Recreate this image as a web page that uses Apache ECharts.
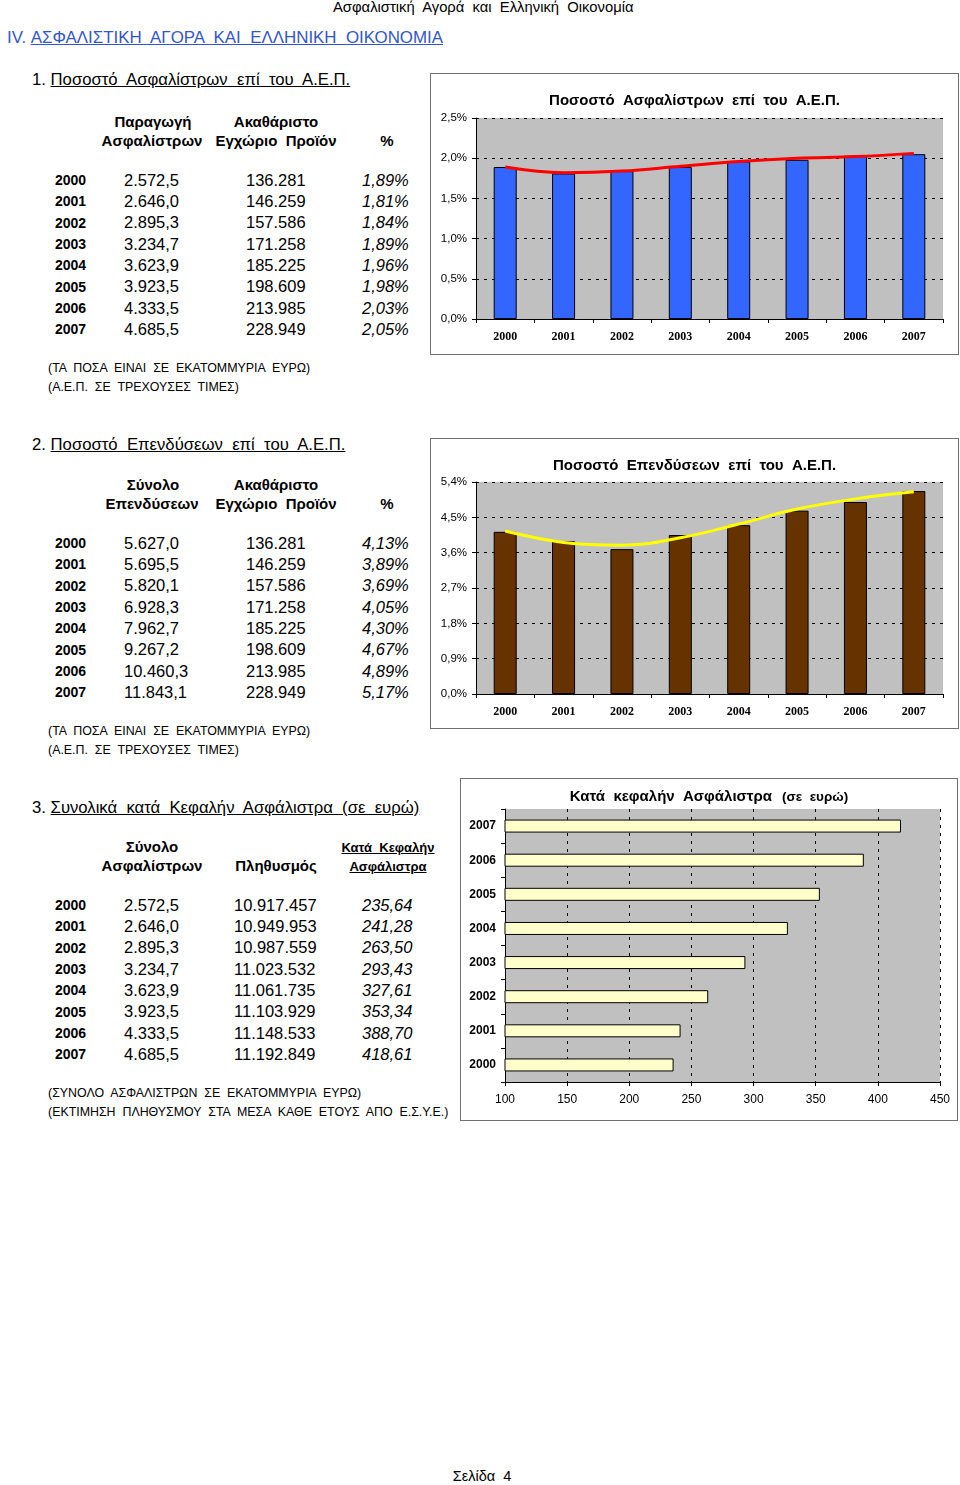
<!DOCTYPE html>
<html><head><meta charset="utf-8">
<script src="https://cdn.jsdelivr.net/npm/echarts/dist/echarts.min.js"></script>
<style>
body{margin:0;width:960px;height:1485px;position:relative;background:#fff;font-family:"Liberation Sans",Arial,sans-serif;overflow:hidden}
.t{position:absolute;white-space:pre;line-height:1;color:#000}
.u{text-decoration:underline}
.b{font-weight:bold}
.i{font-style:italic}
.frame{position:absolute;border:1px solid #707070;box-sizing:border-box;background:#fff}
</style>
</head><body>
<div id="page"></div>
<div class="frame" id="c1" style="left:430px;top:73px;width:529px;height:282px"></div>
<div class="frame" id="c2" style="left:430px;top:438px;width:529px;height:291px"></div>
<div class="frame" id="c3" style="left:460px;top:778px;width:498px;height:343px"></div>
<script>
// ---- data ----
const years = ['2000','2001','2002','2003','2004','2005','2006','2007'];
const premiums = [2572.5, 2646.0, 2895.3, 3234.7, 3623.9, 3923.5, 4333.5, 4685.5];
const gdp = [136281, 146259, 157586, 171258, 185225, 198609, 213985, 228949];
const premiumPct = [1.89, 1.81, 1.84, 1.89, 1.96, 1.98, 2.03, 2.05];
const investments = [5627.0, 5695.5, 5820.1, 6928.3, 7962.7, 9267.2, 10460.3, 11843.1];
const investPct = [4.13, 3.89, 3.69, 4.05, 4.30, 4.67, 4.89, 5.17];
const population = [10917457, 10949953, 10987559, 11023532, 11061735, 11103929, 11148533, 11192849];
const perCapita = [235.64, 241.28, 263.50, 293.43, 327.61, 353.34, 388.70, 418.61];
// trend lines
const premiumTrend = [1.89, 1.82, 1.84, 1.90, 1.96, 2.00, 2.02, 2.06];
const investTrend = [4.15, 3.86, 3.79, 3.98, 4.33, 4.71, 4.97, 5.15];
// axis ticks
const premiumAxis = {min: 0, max: 2.5, interval: 0.5};
const investAxis = {min: 0, max: 5.4, interval: 0.9};
const perCapitaAxis = {min: 100, max: 450, interval: 50};

// ---- helpers ----
function fmt(v, dec){
  const s = v.toFixed(dec);
  let [ip, dp] = s.split('.');
  ip = ip.replace(/\B(?=(\d{3})+(?!\d))/g, '.');
  return dp !== undefined ? ip + ',' + dp : ip;
}
const page = document.getElementById('page');
function txt(s, x, y, fs, cls, align, extra){
  const d = document.createElement('div');
  d.className = 't ' + (cls || '');
  d.textContent = s;
  d.style.fontSize = fs + 'px';
  d.style.top = (y - fs * 0.5) + 'px';
  if (align === 'center') { d.style.left = (x - 200) + 'px'; d.style.width = '400px'; d.style.textAlign = 'center'; }
  else if (align === 'right') { d.style.right = (960 - x) + 'px'; d.style.textAlign = 'right'; }
  else d.style.left = x + 'px';
  if (extra) Object.assign(d.style, extra);
  page.appendChild(d);
  return d;
}
function html(h, x, y, fs, cls, extra){
  const d = txt('', x, y, fs, cls, null, extra);
  d.innerHTML = h;
  return d;
}

// ---- page text ----
txt('Ασφαλιστική  Αγορά  και  Ελληνική  Οικονομία', 333, 7, 14.8);
html('IV. <span class="u">ΑΣΦΑΛΙΣΤΙΚΗ  ΑΓΟΡΑ  ΚΑΙ  ΕΛΛΗΝΙΚΗ  ΟΙΚΟΝΟΜΙΑ</span>', 7, 38, 16.9, '', {color:'#3355cc'});
html('1. <span class="u">Ποσοστό  Ασφαλίστρων  επί  του  Α.Ε.Π.</span>', 32, 80, 16.7);
html('2. <span class="u">Ποσοστό  Επενδύσεων  επί  του  Α.Ε.Π.</span>', 32, 445, 16.7);
html('3. <span class="u">Συνολικά  κατά  Κεφαλήν  Ασφάλιστρα  (σε  ευρώ)</span>', 32, 808, 16.7);

function rows(y0, c2, c2x, c3, c3x, c4){
  for (let i = 0; i < years.length; i++){
    const y = y0 + i * 21.3;
    txt(years[i], 55, y, 14, 'b');
    txt(c2[i], c2x, y, 16.5);
    txt(c3[i], c3x, y, 16.5);
    txt(c4[i], 362, y, 16.5, 'i');
  }
}
const HF = 15;
// section 1
txt('Παραγωγή', 153, 121, HF, 'b', 'center');
txt('Ασφαλίστρων', 152, 140, HF, 'b', 'center');
txt('Ακαθάριστο', 276, 121, HF, 'b', 'center');
txt('Εγχώριο  Προϊόν', 276, 140, HF, 'b', 'center');
txt('%', 387, 140, HF, 'b', 'center');
rows(180, premiums.map(v => fmt(v,1)), 124, gdp.map(v => fmt(v,0)), 246, premiumPct.map(v => fmt(v,2) + '%'));
txt('(ΤΑ  ΠΟΣΑ  ΕΙΝΑΙ  ΣΕ  ΕΚΑΤΟΜΜΥΡΙΑ  ΕΥΡΩ)', 48, 368, 12.4);
txt('(Α.Ε.Π.  ΣΕ  ΤΡΕΧΟΥΣΕΣ  ΤΙΜΕΣ)', 48, 387, 12.4);
// section 2
txt('Σύνολο', 153, 484, HF, 'b', 'center');
txt('Επενδύσεων', 152, 503, HF, 'b', 'center');
txt('Ακαθάριστο', 276, 484, HF, 'b', 'center');
txt('Εγχώριο  Προϊόν', 276, 503, HF, 'b', 'center');
txt('%', 387, 503, HF, 'b', 'center');
rows(543, investments.map(v => fmt(v,1)), 124, gdp.map(v => fmt(v,0)), 246, investPct.map(v => fmt(v,2) + '%'));
txt('(ΤΑ  ΠΟΣΑ  ΕΙΝΑΙ  ΣΕ  ΕΚΑΤΟΜΜΥΡΙΑ  ΕΥΡΩ)', 48, 731, 12.4);
txt('(Α.Ε.Π.  ΣΕ  ΤΡΕΧΟΥΣΕΣ  ΤΙΜΕΣ)', 48, 750, 12.4);
// section 3
txt('Σύνολο', 152, 846, HF, 'b', 'center');
txt('Ασφαλίστρων', 152, 865, HF, 'b', 'center');
txt('Πληθυσμός', 276, 865, HF, 'b', 'center');
txt('Κατά  Κεφαλήν', 388, 847, 13, 'b u', 'center');
txt('Ασφάλιστρα', 388, 866, 13, 'b u', 'center');
rows(905, premiums.map(v => fmt(v,1)), 124, population.map(v => fmt(v,0)), 234, perCapita.map(v => fmt(v,2)));
txt('(ΣΥΝΟΛΟ  ΑΣΦΑΛΙΣΤΡΩΝ  ΣΕ  ΕΚΑΤΟΜΜΥΡΙΑ  ΕΥΡΩ)', 48, 1093, 12.4);
txt('(ΕΚΤΙΜΗΣΗ  ΠΛΗΘΥΣΜΟΥ  ΣΤΑ  ΜΕΣΑ  ΚΑΘΕ  ΕΤΟΥΣ  ΑΠΟ  Ε.Σ.Υ.Ε.)', 48, 1112, 12.4);
txt('Σελίδα  4', 482, 1476, 14.5, '', 'center');

// ---- charts ----
const FONT = '"Liberation Sans", Arial, sans-serif';
const SERIF = '"Liberation Serif", "Times New Roman", serif';
const dotted = {color:'#000', width:1, type:[3,5]};
function pctLabel(v){ return v.toFixed(1).replace('.', ',') + '%'; }

function vbarOption(title, grid, axis, values, trend, barColor, trendColor){
  return {
    animation:false,
    title:{text:title, left:'center', top:14, textStyle:{fontFamily:FONT, fontSize:15, fontWeight:'bold', color:'#000'}},
    grid:Object.assign({show:true, backgroundColor:'#c0c0c0', borderWidth:0}, grid),
    xAxis:{type:'category', data:years, boundaryGap:true,
      axisLine:{lineStyle:{color:'#000', width:1}},
      axisTick:{show:true, length:4, lineStyle:{color:'#000'}},
      axisLabel:{fontFamily:SERIF, fontWeight:'bold', fontSize:12, color:'#000', margin:12}},
    yAxis:{type:'value', min:axis.min, max:axis.max, interval:axis.interval,
      axisLine:{show:true, lineStyle:{color:'#000', width:1}},
      axisTick:{show:true, length:4, lineStyle:{color:'#000'}},
      axisLabel:{fontFamily:FONT, fontSize:11.5, color:'#000', margin:9, formatter:pctLabel},
      splitLine:{show:true, lineStyle:dotted}},
    series:[
      {type:'bar', data:values, barWidth:23, itemStyle:{color:barColor, borderColor:'#000', borderWidth:1}},
      {type:'line', data:trend, smooth:0.4, symbol:'none', lineStyle:{color:trendColor, width:3}, z:5}
    ]
  };
}

echarts.init(document.getElementById('c1'), null, {renderer:'canvas'}).setOption(
  vbarOption('Ποσοστό  Ασφαλίστρων  επί  του  Α.Ε.Π.', {left:45, right:15, top:44, bottom:35},
    premiumAxis, premiumPct, premiumTrend, '#3366ff', '#ff0000'));
echarts.init(document.getElementById('c2'), null, {renderer:'canvas'}).setOption(
  vbarOption('Ποσοστό  Επενδύσεων  επί  του  Α.Ε.Π.', {left:45, right:15, top:43, bottom:34},
    investAxis, investPct, investTrend, '#663300', '#ffff00'));

echarts.init(document.getElementById('c3'), null, {renderer:'canvas'}).setOption({
  animation:false,
  title:{text:'{a|Κατά  κεφαλήν  Ασφάλιστρα}  {b|(σε  ευρώ)}', left:'center', top:4,
    textStyle:{rich:{a:{fontFamily:FONT, fontSize:15, fontWeight:'bold', color:'#000', lineHeight:18}, b:{fontFamily:FONT, fontSize:13.5, fontWeight:'bold', color:'#000', lineHeight:18}}}},
  grid:{show:true, backgroundColor:'#c0c0c0', borderWidth:0, left:44, right:17, top:30, bottom:38},
  xAxis:{type:'value', min:perCapitaAxis.min, max:perCapitaAxis.max, interval:perCapitaAxis.interval,
    axisLine:{show:true, lineStyle:{color:'#000', width:1}},
    axisTick:{show:true, length:4, lineStyle:{color:'#000'}},
    axisLabel:{fontFamily:FONT, fontSize:12, color:'#000', margin:12},
    splitLine:{show:true, lineStyle:dotted}},
  yAxis:{type:'category', data:years,
    axisLine:{show:true, lineStyle:{color:'#000', width:1}},
    axisTick:{show:true, length:4, lineStyle:{color:'#000'}},
    axisLabel:{fontFamily:FONT, fontSize:12, fontWeight:'bold', color:'#000', margin:9}},
  series:[{type:'bar', data:perCapita, barWidth:13, itemStyle:{color:'#ffffcc', borderColor:'#000', borderWidth:1}}]
});
</script>
</body></html>
